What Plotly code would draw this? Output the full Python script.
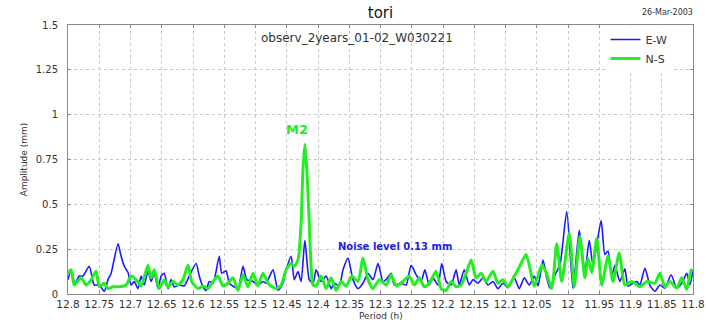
import plotly.graph_objects as go

# ---- data ----
ew_period = [12.800, 12.795, 12.789, 12.782, 12.776, 12.766, 12.758, 12.750, 12.742, 12.736,
             12.731, 12.720, 12.715, 12.710, 12.704, 12.699, 12.694, 12.688, 12.683, 12.678,
             12.672, 12.667, 12.662, 12.656, 12.651, 12.646, 12.640, 12.635, 12.630, 12.622,
             12.614, 12.606, 12.595, 12.590, 12.584, 12.579, 12.574, 12.568, 12.558, 12.554,
             12.547, 12.542, 12.534, 12.528, 12.520, 12.514, 12.504, 12.496, 12.488, 12.483,
             12.472, 12.464, 12.456, 12.451, 12.443, 12.438, 12.432, 12.427, 12.421, 12.414,
             12.408, 12.403, 12.395, 12.387, 12.379, 12.374, 12.366, 12.360, 12.352, 12.344,
             12.336, 12.328, 12.320, 12.312, 12.304, 12.296, 12.291, 12.283, 12.278, 12.267,
             12.259, 12.251, 12.243, 12.235, 12.229, 12.222, 12.216, 12.208, 12.202, 12.195,
             12.187, 12.179, 12.174, 12.166, 12.158, 12.152, 12.144, 12.136, 12.128, 12.120,
             12.112, 12.104, 12.096, 12.086, 12.078, 12.070, 12.062, 12.054, 12.048, 12.040,
             12.034, 12.029, 12.021, 12.013, 12.002, 11.992, 11.982, 11.973, 11.966, 11.960,
             11.947, 11.941, 11.936, 11.930, 11.925, 11.917, 11.909, 11.904, 11.896, 11.890,
             11.885, 11.877, 11.869, 11.861, 11.853, 11.845, 11.835, 11.826, 11.818, 11.810,
             11.805, 11.800]
ew_amp = [0.08, 0.135, 0.06, 0.10, 0.10, 0.155, 0.05, 0.05, 0.015, 0.08,
          0.116, 0.28, 0.21, 0.155, 0.12, 0.05, 0.07, 0.03, 0.10, 0.05,
          0.127, 0.07, 0.116, 0.03, 0.10, 0.116, 0.03, 0.08, 0.04, 0.05,
          0.045, 0.10, 0.17, 0.10, 0.04, 0.02, 0.07, 0.06, 0.21, 0.116,
          0.13, 0.06, 0.04, 0.03, 0.155, 0.08, 0.07, 0.05, 0.07, 0.06,
          0.135, 0.02, 0.06, 0.135, 0.21, 0.08, 0.125, 0.07, 0.30, 0.08,
          0.06, 0.135, 0.07, 0.10, 0.03, 0.06, 0.045, 0.135, 0.20, 0.08,
          0.03, 0.06, 0.116, 0.08, 0.17, 0.07, 0.08, 0.116, 0.05, 0.06,
          0.05, 0.16, 0.107, 0.07, 0.135, 0.05, 0.09, 0.05, 0.17, 0.07,
          0.05, 0.135, 0.05, 0.135, 0.05, 0.08, 0.06, 0.09, 0.05, 0.07,
          0.03, 0.06, 0.035, 0.09, 0.03, 0.09, 0.05, 0.10, 0.045, 0.19,
          0.09, 0.033, 0.107, 0.16, 0.46, 0.03, 0.355, 0.125, 0.30, 0.16,
          0.41, 0.22, 0.24, 0.10, 0.16, 0.07, 0.14, 0.044, 0.06, 0.07,
          0.05, 0.144, 0.05, 0.015, 0.05, 0.033, 0.107, 0.033, 0.06, 0.116,
          0.05, 0.134]

ns_period = [12.800, 12.795, 12.790, 12.779, 12.771, 12.763, 12.755, 12.750, 12.742, 12.736,
             12.728, 12.718, 12.707, 12.699, 12.691, 12.683, 12.672, 12.667, 12.662, 12.654,
             12.646, 12.640, 12.632, 12.624, 12.616, 12.608, 12.602, 12.592, 12.584, 12.576,
             12.568, 12.560, 12.552, 12.544, 12.536, 12.528, 12.520, 12.512, 12.504, 12.496,
             12.488, 12.480, 12.475, 12.467, 12.459, 12.451, 12.443, 12.438, 12.432, 12.427,
             12.424, 12.421, 12.418, 12.414, 12.411, 12.408, 12.403, 12.395, 12.387, 12.379,
             12.371, 12.363, 12.355, 12.346, 12.336, 12.328, 12.320, 12.312, 12.302, 12.291,
             12.283, 12.275, 12.264, 12.254, 12.246, 12.238, 12.230, 12.222, 12.211, 12.203,
             12.195, 12.187, 12.179, 12.171, 12.163, 12.155, 12.147, 12.139, 12.131, 12.120,
             12.112, 12.104, 12.096, 12.086, 12.080, 12.067, 12.054, 12.048, 12.042, 12.035,
             12.026, 12.018, 12.010, 11.998, 11.990, 11.981, 11.973, 11.968, 11.962, 11.954,
             11.946, 11.936, 11.928, 11.918, 11.909, 11.898, 11.885, 11.874, 11.861, 11.853,
             11.845, 11.837, 11.826, 11.818, 11.810, 11.803, 11.800]
ns_amp = [0.116, 0.135, 0.05, 0.09, 0.05, 0.08, 0.127, 0.04, 0.06, 0.03,
          0.04, 0.04, 0.05, 0.10, 0.08, 0.045, 0.16, 0.09, 0.135, 0.03,
          0.08, 0.04, 0.07, 0.05, 0.08, 0.16, 0.07, 0.03, 0.045, 0.03,
          0.07, 0.10, 0.045, 0.06, 0.09, 0.02, 0.107, 0.04, 0.116, 0.045,
          0.116, 0.06, 0.045, 0.03, 0.05, 0.135, 0.17, 0.155, 0.19, 0.40,
          0.70, 0.835, 0.70, 0.40, 0.15, 0.05, 0.045, 0.10, 0.03, 0.09,
          0.02, 0.07, 0.045, 0.10, 0.07, 0.20, 0.08, 0.03, 0.08, 0.05,
          0.107, 0.045, 0.07, 0.10, 0.05, 0.09, 0.04, 0.06, 0.127, 0.03,
          0.02, 0.07, 0.04, 0.05, 0.116, 0.19, 0.09, 0.116, 0.07, 0.127,
          0.06, 0.08, 0.04, 0.10, 0.135, 0.22, 0.045, 0.10, 0.16, 0.12,
          0.03, 0.28, 0.07, 0.34, 0.04, 0.32, 0.09, 0.20, 0.12, 0.31,
          0.05, 0.21, 0.07, 0.227, 0.05, 0.07, 0.04, 0.07, 0.06, 0.116,
          0.04, 0.07, 0.033, 0.09, 0.025, 0.134, 0.13]

x_tick_vals = [12.8, 12.75, 12.7, 12.65, 12.6, 12.55, 12.5, 12.45, 12.4, 12.35, 12.3,
               12.25, 12.2, 12.15, 12.1, 12.05, 12.0, 11.95, 11.9, 11.85, 11.8]
x_tick_text = ["12.8", "12.75", "12.7", "12.65", "12.6", "12.55", "12.5", "12.45", "12.4",
               "12.35", "12.3", "12.25", "12.2", "12.15", "12.1", "12.05", "12", "11.95",
               "11.9", "11.85", "11.8"]
y_tick_vals = [0, 0.25, 0.5, 0.75, 1.0, 1.25, 1.5]
y_tick_text = ["0", "0.25", "0.5", "0.75", "1", "1.25", "1.5"]

FONT = "DejaVu Sans"

fig = go.Figure()
fig.add_trace(go.Scatter(x=ew_period, y=ew_amp, mode="lines", name="E-W",
                         line=dict(color="#1a1aff", width=1.6, shape="spline", smoothing=0.6)))
fig.add_trace(go.Scatter(x=ns_period, y=ns_amp, mode="lines", name="N-S",
                         line=dict(color="#22ee22", width=3, shape="spline", smoothing=0.6)))

axis_common = dict(showgrid=True, gridcolor="#c8c8c8", griddash="dot", gridwidth=1,
                   showline=True, linecolor="#888888", linewidth=1, mirror="ticks",
                   ticks="inside", ticklen=3, tickcolor="#888888", zeroline=False,
                   automargin=False)

fig.update_layout(
    width=706, height=322,
    margin=dict(l=68, r=13, t=25, b=28),
    paper_bgcolor="white", plot_bgcolor="white",
    font=dict(family=FONT, color="#222222"),
    title=dict(text="tori", x=0.5, xref="paper", xanchor="center", y=0.96, yref="container",
               yanchor="middle", font=dict(size=15, family=FONT, color="#111111")),
    xaxis=dict(range=[12.8, 11.8], tickvals=x_tick_vals, ticktext=x_tick_text, tickangle=0,
               tickfont=dict(size=10.5, family=FONT, color="#333333"),
               ticklabeloverflow="allow", ticklabelstandoff=0,
               **axis_common),
    yaxis=dict(range=[0, 1.5], tickvals=y_tick_vals, ticktext=y_tick_text,
               tickfont=dict(size=10, family=FONT, color="#333333"),
               ticklabelstandoff=7,
               title=dict(text="Amplitude (mm)", font=dict(size=9, family=FONT, color="#333333"),
                          standoff=6),
               **axis_common),
    legend=dict(x=0.86, y=1.0, xanchor="left", yanchor="top", bgcolor="rgba(255,255,255,0.9)",
                font=dict(size=11, family=FONT, color="#333333"), itemwidth=30,
                tracegroupgap=0),
    showlegend=True,
)

fig.add_annotation(text="Period (h)", xref="paper", yref="paper", x=0.5, y=-0.08,
                   showarrow=False, xanchor="center", yanchor="middle",
                   font=dict(size=9, family=FONT, color="#333333"))
fig.add_annotation(text="observ_2years_01-02_W030221", xref="paper", yref="paper",
                   x=0.462, y=0.952, showarrow=False, xanchor="center", yanchor="middle",
                   font=dict(size=12, family=FONT, color="#333333"))
fig.add_annotation(text="26-Mar-2003", xref="paper", yref="paper", x=0.915, y=1.048,
                   showarrow=False, xanchor="left", yanchor="middle",
                   font=dict(size=8, family=FONT, color="#333333"))
fig.add_annotation(text="<b>M2</b>", xref="paper", yref="paper", x=0.366, y=0.61,
                   showarrow=False, xanchor="center", yanchor="middle",
                   font=dict(size=13, family=FONT, color="#22ee22"))
fig.add_annotation(text="<b>Noise level 0.13 mm</b>", xref="paper", yref="paper",
                   x=0.523, y=0.177, showarrow=False, xanchor="center", yanchor="middle",
                   font=dict(size=10, family=FONT, color="#2222dd"))

fig.write_html("out.html")
